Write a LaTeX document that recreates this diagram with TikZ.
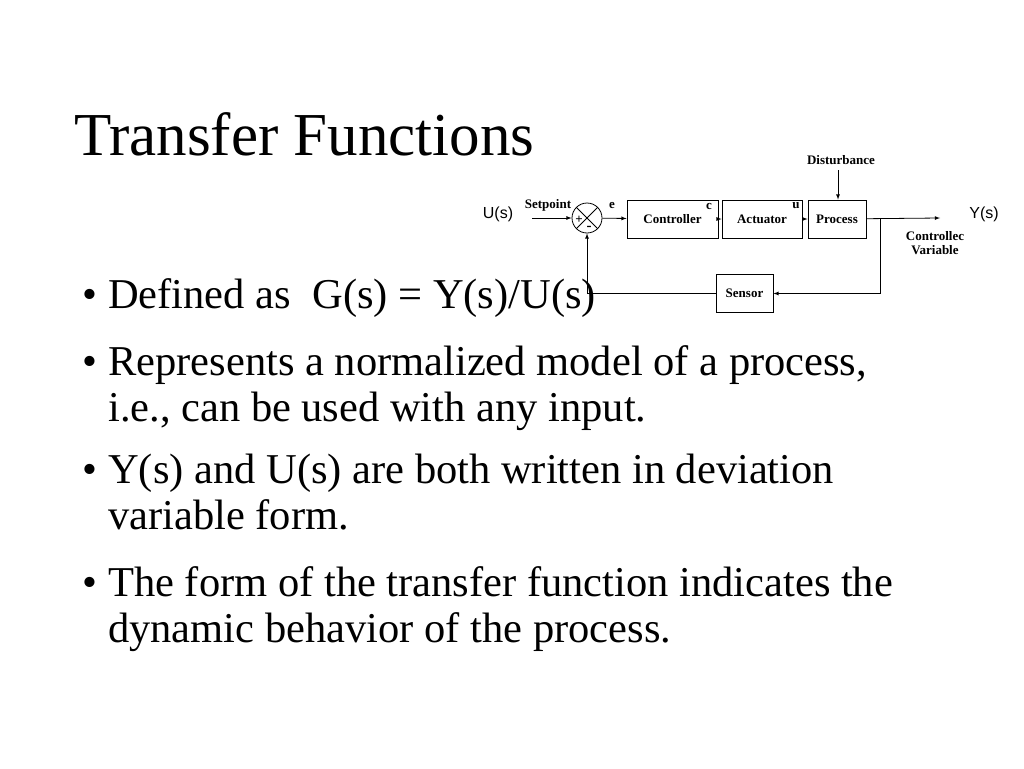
\documentclass[tikz,border=0pt]{standalone}
\usepackage{fontspec}
\setmainfont{Liberation Serif}
\setsansfont{Liberation Sans}
\usetikzlibrary{positioning}
\tikzset{
  blk/.style={draw, thick, minimum height=38pt, inner sep=1pt, font=\bfseries\fontsize{13}{14}\selectfont},
  lbl/.style={font=\bfseries\fontsize{13}{14}\selectfont, inner sep=0pt},
  line/.style={thick, -latex},
  body/.style={anchor=base west, inner sep=0pt, font=\fontsize{42.5}{48}\selectfont},
}
\begin{document}
\begin{tikzpicture}[x=1pt, y=-1pt]
  \useasboundingbox (0,0) rectangle (1024,768);
  \node[anchor=base west, inner sep=0pt, font=\fontsize{61}{70}\selectfont] (title) at (74,155) {Transfer Functions};
  % block diagram
  \node[draw, thick, circle, minimum size=30pt, inner sep=0pt] (sum) at (587,218) {};
  \draw[thick] (sum.north west) -- (sum.south east) (sum.north east) -- (sum.south west);
  \node[font=\bfseries\fontsize{13}{12}\selectfont, inner sep=0pt] (plus) at (579,220) {+};
  \node[font=\bfseries\fontsize{15}{12}\selectfont, inner sep=0pt] (minus) at (589,228) {-};
  \node[blk, minimum width=91pt] (ctrl) at (672.5,219) {Controller};
  \node[blk, minimum width=80pt] (act) at (762,219) {Actuator};
  \node[blk, minimum width=58pt] (proc) at (837,219) {Process};
  \node[blk, minimum width=57pt] (sens) at (744.5,293.5) {Sensor};
  \node[font=\sffamily\fontsize{16}{16}\selectfont] (u) at (498,214) {U(s)};
  \node[font=\sffamily\fontsize{16}{16}\selectfont] (y) at (984,214) {Y(s)};
  \coordinate (in) at (532,218);
  \coordinate (out) at (940,218);
  \coordinate (tap) at (880,218);
  \coordinate (dist) at (838,170);
  \node[lbl] (setp) at (548,205) {Setpoint};
  \node[lbl] (e) at (612,206) {e};
  \node[lbl] (c) at (709,206) {c};
  \node[lbl] (uu) at (796,206) {u};
  \node[lbl] (dtxt) at (841,160) {Disturbance};
  \node[lbl, align=center] (cv) at (935,243) {Controllec\\Variable};
  \draw[line] (in) -- (sum);
  \draw[line] (sum) -- (ctrl);
  \draw[line] (ctrl) -- (act);
  \draw[line] (act) -- (proc);
  \draw[line] (proc) -- (out);
  \draw[line] (dist) -- (proc.north -| dist);
  \draw[line] (tap) |- (sens.east);
  \draw[line] (sens.west) -| (sum.south);
  % bullets
  \foreach \yy/\txt/\b in {
    308/{Defined as\enspace G(s) = Y(s)/U(s)}/1,
    375/{Represents a normalized model of a process,}/1,
    421/{i.e., can be used with any input.}/0,
    483/{Y(s) and U(s) are both written in deviation}/1,
    529/{variable form.}/0,
    596/{The form of the transfer function indicates the}/1,
    642/{dynamic behavior of the process.}/0}{
    \node[body] at (108,\yy) {\txt};
    \ifnum\b=1 \node[body] at (82,\yy) {\textbullet}; \fi
  }
\end{tikzpicture}
\end{document}
